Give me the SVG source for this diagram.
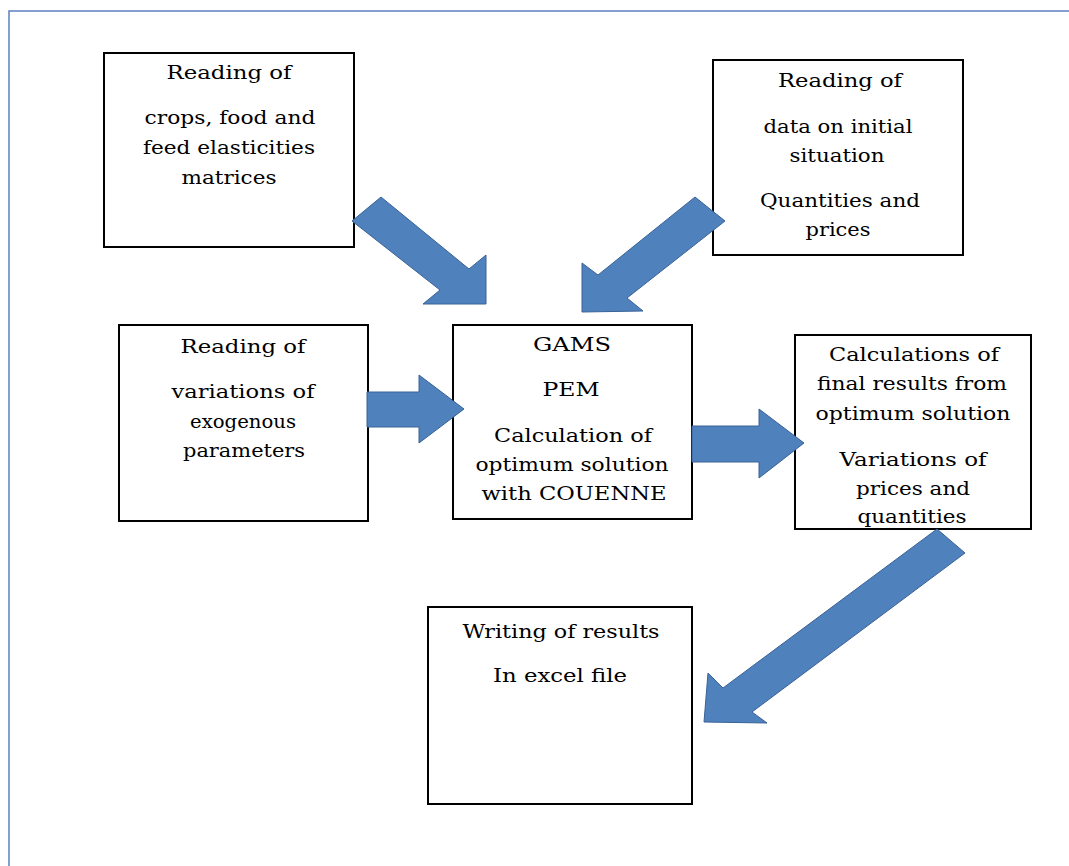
<svg xmlns="http://www.w3.org/2000/svg" width="1069" height="866" viewBox="0 0 1069 866">
<style>
.box{fill:#fff;stroke:#000;stroke-width:2}
.t{font-family:"DejaVu Serif","Liberation Serif",serif;font-size:19px;fill:#000;text-anchor:middle}
.arr{fill:#4f81bd;stroke:#3a6296;stroke-width:1}
</style>
<rect width="1069" height="866" fill="#fff"/>
<path d="M9,866 V11 H1069" fill="none" stroke="#5b80c0" stroke-width="1.5"/>

<g id="n1">
<rect class="box" x="104" y="53" width="250" height="194"/>
<text class="t" x="229" y="79" textLength="125" lengthAdjust="spacingAndGlyphs">Reading of</text>
<text class="t" x="230" y="124" textLength="171" lengthAdjust="spacingAndGlyphs">crops, food and</text>
<text class="t" x="229" y="154" textLength="172" lengthAdjust="spacingAndGlyphs">feed elasticities</text>
<text class="t" x="229" y="184" textLength="95" lengthAdjust="spacingAndGlyphs">matrices</text>
</g>

<g id="n2">
<rect class="box" x="713" y="60" width="250" height="195"/>
<text class="t" x="840" y="87" textLength="124" lengthAdjust="spacingAndGlyphs">Reading of</text>
<text class="t" x="838" y="133" textLength="149" lengthAdjust="spacingAndGlyphs">data on initial</text>
<text class="t" x="837" y="162" textLength="95" lengthAdjust="spacingAndGlyphs">situation</text>
<text class="t" x="840" y="207" textLength="160" lengthAdjust="spacingAndGlyphs">Quantities and</text>
<text class="t" x="838" y="236" textLength="65" lengthAdjust="spacingAndGlyphs">prices</text>
</g>

<g id="n3">
<rect class="box" x="119" y="325" width="249" height="196"/>
<text class="t" x="243" y="353" textLength="125" lengthAdjust="spacingAndGlyphs">Reading of</text>
<text class="t" x="243" y="398" textLength="143" lengthAdjust="spacingAndGlyphs">variations of</text>
<text class="t" x="243" y="428" textLength="106" lengthAdjust="spacingAndGlyphs">exogenous</text>
<text class="t" x="244" y="457" textLength="122" lengthAdjust="spacingAndGlyphs">parameters</text>
</g>

<g id="n4">
<rect class="box" x="453" y="325" width="239" height="194"/>
<text class="t" x="572" y="351" textLength="78" lengthAdjust="spacingAndGlyphs">GAMS</text>
<text class="t" x="571" y="396" textLength="57" lengthAdjust="spacingAndGlyphs">PEM</text>
<text class="t" x="573" y="442" textLength="158" lengthAdjust="spacingAndGlyphs">Calculation of</text>
<text class="t" x="572" y="471" textLength="193" lengthAdjust="spacingAndGlyphs">optimum solution</text>
<text class="t" x="574" y="500" textLength="185" lengthAdjust="spacingAndGlyphs">with COUENNE</text>
</g>

<g id="n5">
<rect class="box" x="795" y="335" width="236" height="194"/>
<text class="t" x="914" y="361" textLength="170" lengthAdjust="spacingAndGlyphs">Calculations of</text>
<text class="t" x="912" y="390" textLength="190" lengthAdjust="spacingAndGlyphs">final results from</text>
<text class="t" x="913" y="420" textLength="195" lengthAdjust="spacingAndGlyphs">optimum solution</text>
<text class="t" x="913" y="466" textLength="147" lengthAdjust="spacingAndGlyphs">Variations of</text>
<text class="t" x="913" y="495" textLength="114" lengthAdjust="spacingAndGlyphs">prices and</text>
<text class="t" x="912" y="523" textLength="109" lengthAdjust="spacingAndGlyphs">quantities</text>
</g>

<g id="n6">
<rect class="box" x="428" y="607" width="264" height="197"/>
<text class="t" x="561" y="638" textLength="197" lengthAdjust="spacingAndGlyphs">Writing of results</text>
<text class="t" x="560" y="682" textLength="134" lengthAdjust="spacingAndGlyphs">In excel file</text>
</g>

<g id="connectors">
<polygon class="arr" points="381,197 469,269 486,255 486,304 423,304 440,290 352,221"/>
<polygon class="arr" points="695,197 725,221 627,298 643,311 582,312 582,263 598,275"/>
<polygon class="arr" points="367,392 419,392 419,375 464,409 419,443 419,427 367,427"/>
<polygon class="arr" points="692,426 759,426 759,409 804,443 759,478 759,462 692,462"/>
<polygon class="arr" points="937,529 965,553 752,712 767,723 704,722 708,673 723,688"/>
</g>
</svg>
